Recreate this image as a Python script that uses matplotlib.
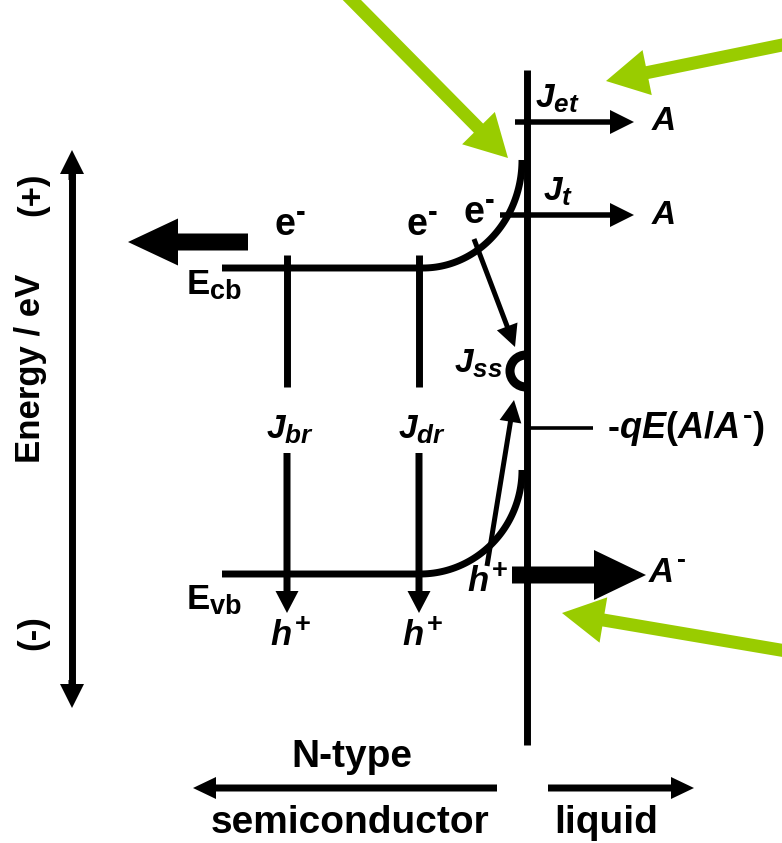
import numpy as np
import matplotlib
matplotlib.use('Agg')
import matplotlib.pyplot as plt
from matplotlib.patches import FancyArrow, Arc
import matplotlib._mathtext as _mt

plt.rcParams['font.family'] = ['Liberation Sans', 'DejaVu Sans']
plt.rcParams['font.weight'] = 'bold'
plt.rcParams['mathtext.fontset'] = 'custom'
plt.rcParams['mathtext.rm'] = 'Liberation Sans:bold'
plt.rcParams['mathtext.it'] = 'Liberation Sans:italic:bold'
plt.rcParams['mathtext.bf'] = 'Liberation Sans:bold'
plt.rcParams['mathtext.sf'] = 'Liberation Sans:bold'
try:
    _mt.SHRINK_FACTOR = 0.78
except Exception:
    pass

# ---------------- diagram content ----------------
W, H = 782, 843
GREEN = '#99CC00'

# band edges: label, flat level, bend start, surface level at the interface
band_labels = [r'$\mathrm{E}_{\mathrm{cb}}$', r'$\mathrm{E}_{\mathrm{vb}}$']
band_level = [268, 574]
band_start = [222, 222]
band_bend = [423, 420]
band_surface = [160, 470]
band_label_pos = [(186, 285), (186, 600)]

interface_x = 527
interface_span = [70, 745]

# bulk / depletion recombination currents
recomb_x = [287, 419]
recomb_labels = [r'$J_{br}$', r'$J_{dr}$']
carrier_top = [r'$\mathrm{e}^{\text{-}}$', r'$\mathrm{e}^{\text{-}}$']
carrier_bottom = [r'$h^{+}$', r'$h^{+}$']

# interfacial transfer currents
transfer_y = [122, 215]
transfer_start = [515, 500]
transfer_labels = [r'$J_{et}$', r'$J_{t}$']
transfer_label_pos = [(535, 99), (543, 192)]
product_label = r'$A$'

# green pointers (tail, tip)
pointer_tail = [(344, -8), (792, 43), (792, 652)]
pointer_tip = [(508, 158), (606, 81), (562, 613)]

# ----------------------------------------------------------
fig = plt.figure(figsize=(W / 100, H / 100), dpi=100)
ax = fig.add_axes([0, 0, 1, 1])
ax.set_xlim(0, W)
ax.set_ylim(H, 0)
ax.axis('off')


def arrow(x0, y0, x1, y1, w, hw, hl, color='k', z=3):
    ax.add_patch(FancyArrow(x0, y0, x1 - x0, y1 - y0, width=w, head_width=hw,
                            head_length=hl, length_includes_head=True,
                            color=color, lw=0, zorder=z))


LW = 5.0  # pt (~7 px)

# energy axis (double arrow)
ax.plot([72, 72], [170, 690], color='k', lw=LW, solid_capstyle='butt')
arrow(72, 180, 72, 150, 7, 24, 24)
arrow(72, 680, 72, 708, 7, 24, 24)
ax.text(31, 368, 'Energy / eV', rotation=90, ha='center', va='center', fontsize=25)
ax.text(33, 194, '(+)', rotation=90, ha='center', va='center', fontsize=25)
ax.text(33, 633, '(-)', rotation=90, ha='center', va='center', fontsize=25)

# big arrow to the back contact
arrow(248, 242, 128, 242, 17, 47, 50)

# bands with band bending
for lab, lev, x0, xb, ys, lp in zip(band_labels, band_level, band_start,
                                     band_bend, band_surface, band_label_pos):
    t = np.linspace(0, np.pi / 2, 60)
    rx = interface_x - 5 - xb
    ry = lev - ys
    xs = np.concatenate([[x0], xb + rx * np.sin(t)])
    yv = np.concatenate([[lev], ys + ry * np.cos(t)])
    ax.plot(xs, yv, color='k', lw=LW, solid_capstyle='butt', solid_joinstyle='round')
    ax.text(lp[0], lp[1], lab, ha='left', va='center', fontsize=25)

# interface
ax.plot([interface_x, interface_x], interface_span, color='k', lw=LW,
        solid_capstyle='butt')

# recombination in bulk and depletion region
for x, lab, ct, cb in zip(recomb_x, recomb_labels, carrier_top, carrier_bottom):
    ax.plot([x, x], [band_level[0] - 13, 387], color='k', lw=LW, solid_capstyle='butt')
    arrow(x, 453, x, 613, 7, 23, 22)
    ax.text(x + 3, 430, lab, ha='center', va='center', fontsize=24)
    ax.text(x + 3, 226, ct, ha='center', va='center', fontsize=27)
    ax.text(x + 3, 636, cb, ha='center', va='center', fontsize=25)

# electron at the surface
ax.text(479, 214, r'$\mathrm{e}^{\text{-}}$', ha='center', va='center', fontsize=27)

# transfer to acceptor
for y, x0, lab, lp in zip(transfer_y, transfer_start, transfer_labels, transfer_label_pos):
    arrow(x0, y, 634, y, 5.5, 24, 24)
    ax.text(lp[0], lp[1], lab, ha='left', va='center', fontsize=24)
    ax.text(663, y, product_label, ha='center', va='center', fontsize=24)

# surface state
ax.add_patch(Arc((interface_x - 1, 371), 32, 32, theta1=90, theta2=270,
                 lw=6.5, color='k', zorder=4))
ax.text(503, 364, r'$J_{ss}$', ha='right', va='center', fontsize=24)
arrow(474, 239, 515, 347, 5, 22, 22)
arrow(487, 566, 514, 400, 5, 22, 22)
ax.text(487, 582, r'$h^{+}$', ha='center', va='center', fontsize=25)

# redox level
ax.plot([interface_x, 593], [428, 428], color='k', lw=2.6, solid_capstyle='butt')
ax.text(607, 428, r'$\text{-}qE(A/A^{\text{-}})$', ha='left', va='center', fontsize=26)

# hole transfer to A-
arrow(512, 575, 646, 575, 17, 50, 52)
ax.text(648, 572, r'$A^{\text{-}}$', ha='left', va='center', fontsize=25)

# green pointer arrows
for (x0, y0), (x1, y1) in zip(pointer_tail, pointer_tip):
    arrow(x0, y0, x1, y1, 13, 46, 42, color=GREEN, z=5)

# bottom labels
arrow(497, 788, 193, 788, 7, 22, 23)
arrow(548, 788, 694, 788, 7, 22, 23)
ax.text(352, 757, 'N-type', ha='center', va='center', fontsize=28)
ax.text(350, 823, 'semiconductor', ha='center', va='center', fontsize=28)
ax.text(606, 823, 'liquid', ha='center', va='center', fontsize=28)

fig.savefig('out.png', dpi=100)
